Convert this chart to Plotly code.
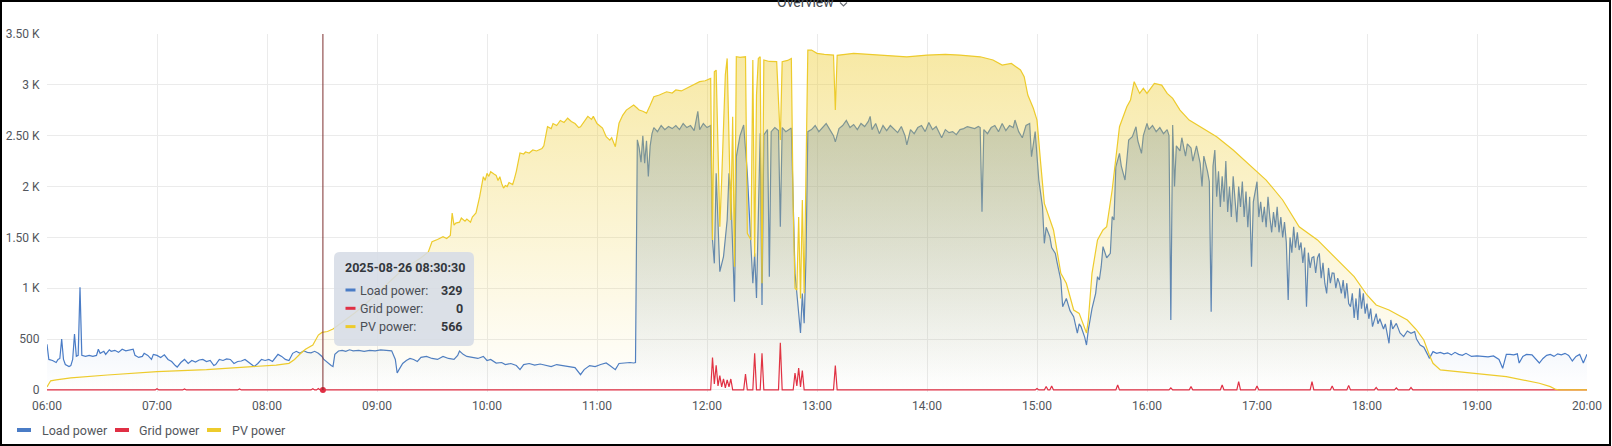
import plotly.graph_objects as go

DAY = "2025-08-26 "

# ---- data (W) ----
load_time = [
    "06:00", "06:01", "06:03", "06:05", "06:06", "06:07", "06:08", "06:09", "06:10", "06:12",
    "06:13", "06:14", "06:15", "06:16", "06:17", "06:18", "06:19", "06:21", "06:23", "06:25",
    "06:27", "06:28", "06:29", "06:31", "06:32", "06:34", "06:35", "06:37", "06:39", "06:41",
    "06:43", "06:45", "06:47", "06:48", "06:50", "06:52", "06:53", "06:55", "06:57", "06:58",
    "07:00", "07:02", "07:04", "07:06", "07:08", "07:10", "07:11", "07:13", "07:15", "07:17",
    "07:19", "07:21", "07:23", "07:25", "07:27", "07:29", "07:31", "07:32", "07:34", "07:36",
    "07:38", "07:40", "07:42", "07:44", "07:46", "07:48", "07:50", "07:52", "07:53", "07:55",
    "07:57", "07:59",
    "08:01", "08:03", "08:05", "08:06", "08:08", "08:10", "08:12", "08:14", "08:16", "08:18",
    "08:20", "08:22", "08:24", "08:26", "08:28", "08:30", "08:31", "08:33", "08:35", "08:36",
    "08:37", "08:39", "08:41", "08:43", "08:45", "08:47", "08:50", "08:53", "08:56", "08:59",
    "09:02", "09:05", "09:08", "09:10", "09:11", "09:12", "09:14", "09:16", "09:18", "09:20",
    "09:22", "09:24", "09:27", "09:30", "09:33", "09:36", "09:39", "09:42", "09:44", "09:45",
    "09:47", "09:49", "09:52", "09:55", "09:58",
    "10:00", "10:02", "10:05", "10:08", "10:10", "10:13", "10:16", "10:18", "10:20", "10:23",
    "10:26", "10:29", "10:32", "10:35", "10:38", "10:41", "10:44", "10:48", "10:51", "10:53",
    "10:56", "10:59",
    "11:02", "11:05", "11:07", "11:09", "11:10", "11:12", "11:15", "11:18", "11:20", "11:21",
    "11:22", "11:23", "11:24", "11:25", "11:26", "11:27", "11:28", "11:29", "11:30", "11:31",
    "11:33", "11:35", "11:37", "11:39", "11:41", "11:43", "11:45", "11:47", "11:49", "11:51",
    "11:53", "11:55", "11:56", "11:58",
    "12:00", "12:02", "12:03", "12:04", "12:05", "12:07", "12:09", "12:11", "12:12", "12:13",
    "12:15", "12:16", "12:18", "12:20", "12:22", "12:24", "12:25", "12:26", "12:27", "12:29",
    "12:30", "12:31", "12:33", "12:34", "12:35", "12:37", "12:39", "12:40", "12:41", "12:43",
    "12:46", "12:48", "12:50", "12:51", "12:52", "12:53", "12:54", "12:55", "12:57", "12:59",
    "13:01", "13:03", "13:05", "13:07", "13:09", "13:10", "13:12", "13:14", "13:16", "13:18",
    "13:20", "13:22", "13:24", "13:26", "13:28", "13:29", "13:30", "13:32", "13:34", "13:36",
    "13:38", "13:40", "13:42", "13:44", "13:46", "13:48", "13:49", "13:51", "13:53", "13:55",
    "13:57", "13:59",
    "14:01", "14:03", "14:05", "14:07", "14:08", "14:10", "14:12", "14:14", "14:16", "14:18",
    "14:20", "14:22", "14:24", "14:26", "14:28", "14:29", "14:30", "14:31", "14:33", "14:35",
    "14:37", "14:39", "14:41", "14:43", "14:45", "14:47", "14:48", "14:50", "14:52", "14:54",
    "14:56", "14:57", "14:59",
    "15:01", "15:03", "15:04", "15:05", "15:07", "15:08", "15:10", "15:11", "15:13", "15:14",
    "15:16", "15:18", "15:20", "15:22", "15:23", "15:24", "15:26", "15:27", "15:28", "15:30",
    "15:32", "15:33", "15:34", "15:35", "15:36", "15:38", "15:40", "15:41", "15:42", "15:43",
    "15:45", "15:46", "15:48", "15:50", "15:52", "15:54", "15:55", "15:57", "15:58",
    "16:00", "16:01", "16:03", "16:05", "16:07", "16:09", "16:11", "16:12", "16:13", "16:14",
    "16:15", "16:16", "16:18", "16:19", "16:21", "16:22", "16:24", "16:25", "16:27", "16:29",
    "16:30", "16:31", "16:33", "16:34", "16:35", "16:36", "16:37", "16:38", "16:39", "16:40",
    "16:41", "16:42", "16:43", "16:44", "16:45", "16:46", "16:47", "16:48", "16:49", "16:50",
    "16:51", "16:52", "16:53", "16:54", "16:55", "16:56", "16:57", "16:58",
    "17:00", "17:01", "17:02", "17:03", "17:04", "17:05", "17:06", "17:07", "17:08", "17:09",
    "17:10", "17:11", "17:12", "17:13", "17:14", "17:15", "17:16", "17:17", "17:18", "17:19",
    "17:20", "17:21", "17:22", "17:23", "17:24", "17:25", "17:26", "17:27", "17:28", "17:29",
    "17:30", "17:31", "17:32", "17:33", "17:34", "17:35", "17:36", "17:37", "17:38", "17:39",
    "17:40", "17:41", "17:42", "17:43", "17:44", "17:45", "17:46", "17:47", "17:48", "17:49",
    "17:50", "17:51", "17:52", "17:53", "17:54", "17:55", "17:56", "17:57", "17:58", "17:59",
    "18:00", "18:01", "18:02", "18:03", "18:05", "18:06", "18:07", "18:09", "18:10", "18:12",
    "18:13", "18:14", "18:16", "18:18", "18:20", "18:22", "18:24", "18:26", "18:27", "18:29",
    "18:31", "18:33", "18:34", "18:36", "18:38", "18:40", "18:42", "18:44", "18:46", "18:48",
    "18:50", "18:52", "18:54", "18:57",
    "19:00", "19:03", "19:06", "19:09", "19:12", "19:14", "19:16", "19:18", "19:20", "19:22",
    "19:23", "19:25", "19:27", "19:30", "19:32", "19:34", "19:36", "19:38", "19:40", "19:42",
    "19:44", "19:46", "19:48", "19:50", "19:52", "19:54", "19:56", "19:58", "20:00",
]
load_w = [
    450, 300, 290, 270, 300, 310, 500, 300, 250, 230,
    240, 300, 550, 330, 340, 1010, 340, 330, 340, 330,
    340, 400, 360, 380, 350, 395, 380, 390, 370, 400,
    385, 390, 400, 340, 320, 330, 360, 340, 300, 350,
    340, 320, 345, 300, 280, 240, 225, 270, 300, 260,
    290, 275, 295, 300, 280, 290, 240, 250, 300, 290,
    305, 300, 260, 280, 285, 300, 270, 240, 230, 260,
    300, 290,
    300, 280, 320, 350, 330, 300, 290, 360, 380, 360,
    385, 370, 365, 380, 360, 329, 300, 265, 240, 230,
    350, 383, 390, 380, 395, 385, 390, 380, 390, 385,
    395, 390, 385, 300, 167, 200, 260, 290, 310, 300,
    280, 320, 330, 310, 300, 330, 310, 300, 340, 383,
    350, 330, 320, 310, 330,
    290, 300, 265, 270, 250, 260, 240, 200, 250, 260,
    245, 255, 240, 230, 250, 240, 230, 220, 150, 200,
    240, 230,
    250, 265, 240, 210, 200, 260, 265, 270, 265, 270,
    2460, 2380, 2240, 2500, 2230, 2450, 2100, 2400, 2520, 2580,
    2540, 2600, 2560, 2590, 2570, 2600, 2560, 2620, 2580, 2600,
    2550, 2740, 2560, 2620,
    2580, 2600, 1475, 1245, 2130, 1163, 1310, 1671, 2130, 1930,
    868, 2294, 2500, 2605, 2130, 1409, 1049, 1343, 904, 2524,
    836, 2508, 2560, 1114, 2540, 2580, 2550, 1605, 2580, 2540,
    2575, 1147, 754, 560, 947, 656, 1310, 2540, 2560, 2600,
    2540, 2580, 2620, 2560, 2500, 2440, 2570, 2600, 2650, 2580,
    2610, 2560, 2620, 2590, 2640, 2690, 2560, 2620, 2520, 2600,
    2550, 2600, 2560, 2530, 2590, 2500, 2410, 2560, 2520, 2580,
    2600, 2540,
    2630, 2560, 2590, 2510, 2480, 2560, 2530, 2540, 2510, 2560,
    2570, 2590, 2580, 2570, 2590, 2580, 1753, 2560, 2520, 2580,
    2600, 2540, 2620, 2550, 2600, 2580, 2654, 2540, 2480, 2600,
    2620, 2293, 2540,
    2064, 1802, 1442, 1600, 1507, 1400, 1343, 1250, 1081, 819,
    900, 780, 721, 560, 650, 623, 520, 442, 590, 800,
    950, 1114, 1081, 1212, 1409, 1300, 1343, 1704, 1671, 2195,
    2326, 2200, 2064, 2458, 2490, 2588, 2450, 2326, 2500,
    2622, 2560, 2600, 2540, 2580, 2520, 2560, 2500, 688, 2605,
    2000, 2400, 2350, 2480, 2300, 2420, 2380, 2250, 2400, 2228,
    2000, 2300, 2150, 2050, 770, 2200, 2359, 1900, 2150, 1800,
    2100, 1850, 2250, 1750, 2000, 1700, 2100, 1850, 1650, 2000,
    1800, 2050, 1700, 1950, 1600, 1900, 1212, 1850,
    2048, 1700, 1850, 1650, 1800, 1600, 1900, 1700, 1550, 1750,
    1600, 1800, 1550, 1700, 1500, 1650, 1450, 885, 1500, 1350,
    1605, 1400, 1550, 1376, 1450, 1250, 1400, 819, 1350, 1200,
    1300, 1310, 1150, 1300, 1343, 1100, 1250, 1050, 950, 1200,
    1050, 1150, 1147, 1000, 1100, 1049, 950, 1080, 900, 1050,
    850, 819, 950, 708, 900, 688, 1000, 800, 950, 750,
    850, 700, 800, 622, 750, 650, 700, 600, 650, 459,
    688, 600, 655, 560, 524, 580, 557, 573, 500, 442,
    420, 350, 311, 377, 360, 370, 355, 365, 345, 370,
    350, 340, 360, 330,
    335, 330, 325, 335, 300, 213, 351, 350, 345, 355,
    265, 330, 350, 345, 300, 265, 310, 340, 350, 330,
    355, 345, 360, 340, 285, 330, 350, 265, 351,
]

pv_time = [
    "06:00", "06:02", "06:05", "06:13", "06:33", "07:00", "07:27", "07:54", "08:05", "08:12",
    "08:15", "08:18", "08:21", "08:25", "08:28", "08:30", "08:33", "08:36", "08:42", "08:48",
    "08:54", "09:00", "09:06", "09:12", "09:18", "09:24", "09:28", "09:30", "09:33", "09:36",
    "09:38", "09:40", "09:41", "09:42", "09:43", "09:45", "09:46", "09:48", "09:49", "09:51",
    "09:52", "09:54", "09:56", "09:58", "09:59", "10:00", "10:01", "10:02", "10:04", "10:05",
    "10:06", "10:07", "10:08", "10:09", "10:10", "10:11", "10:12", "10:14", "10:15", "10:16",
    "10:18", "10:20", "10:21", "10:23", "10:25", "10:27", "10:30", "10:31", "10:33", "10:35",
    "10:36", "10:38", "10:40", "10:42", "10:44", "10:46", "10:48", "10:50", "10:51", "10:53",
    "10:55", "10:57", "10:58", "11:00", "11:02", "11:03", "11:05", "11:07", "11:08", "11:10",
    "11:12", "11:14", "11:16", "11:18", "11:20", "11:22", "11:23", "11:25", "11:27", "11:29",
    "11:31", "11:34", "11:38", "11:41", "11:43", "11:46", "11:49", "11:52", "11:56", "11:59",
    "12:02", "12:03", "12:04", "12:05", "12:06", "12:07", "12:08", "12:09", "12:10", "12:11",
    "12:12", "12:13", "12:14", "12:15", "12:16", "12:18", "12:21", "12:22", "12:24", "12:25",
    "12:26", "12:27", "12:28", "12:29", "12:30", "12:31", "12:34", "12:38", "12:40", "12:41",
    "12:44", "12:46", "12:47", "12:48", "12:49", "12:50", "12:51", "12:52", "12:53", "12:54",
    "12:55", "12:57", "13:00", "13:04", "13:09", "13:10", "13:11", "13:20", "13:30", "13:38",
    "13:49", "14:00", "14:10", "14:18", "14:29", "14:36", "14:41", "14:46", "14:51", "14:53",
    "14:55", "14:58", "15:00", "15:02", "15:04", "15:09", "15:13", "15:16", "15:20", "15:23",
    "15:27", "15:28", "15:30", "15:33", "15:36", "15:38", "15:41", "15:45", "15:49", "15:51",
    "15:53", "15:56", "15:58", "16:00", "16:04", "16:08", "16:11", "16:14", "16:18", "16:23",
    "16:29", "16:38", "16:47", "16:58", "17:05", "17:14", "17:23", "17:33", "17:42", "17:53",
    "18:00", "18:05", "18:12", "18:22", "18:27", "18:31", "18:34", "18:36", "18:40", "18:49",
    "19:00", "19:16", "19:34", "19:40", "19:43", "19:45", "20:00",
]
pv_w = [
    30, 90, 100, 118, 147, 180, 200, 229, 245, 262,
    300, 354, 400, 442, 540, 566, 575, 600, 680, 760,
    850, 950, 1050, 1150, 1230, 1300, 1357, 1458, 1480, 1507,
    1490, 1520, 1740, 1620, 1641, 1650, 1690, 1660, 1680, 1650,
    1700, 1740, 1900, 2097, 2060, 2130, 2100, 2146, 2120, 2110,
    2060, 2097, 2030, 1985, 2010, 2000, 2040, 2020, 2080, 2150,
    2330, 2320, 2340, 2330, 2360, 2350, 2375, 2400, 2588, 2570,
    2620, 2600, 2650, 2630, 2672, 2640, 2620, 2580, 2588, 2640,
    2690, 2660, 2690, 2620, 2588, 2575, 2490, 2457, 2480, 2392,
    2622, 2700, 2752, 2780, 2801, 2770, 2752, 2740, 2722, 2800,
    2883, 2900, 2932, 2920, 2950, 2940, 2966, 2990, 3031, 3040,
    3064, 1475, 3129, 3145, 2200, 1605, 2064, 2600, 3100, 3260,
    2500, 1671, 2687, 1212, 3276, 3270, 3276, 1540, 1475, 3244,
    1310, 2900, 3260, 3276, 1049, 3244, 3230, 3228, 2458, 3228,
    3240, 3260, 1802, 1000, 983, 1700, 900, 1868, 950, 2000,
    3342, 3342, 3310, 3300, 3293, 2752, 3290, 3310, 3300, 3293,
    3276, 3293, 3300, 3293, 3276, 3244, 3195, 3211, 3146, 3080,
    2900, 2770, 2654, 2230, 1835, 1573, 1147, 1049, 786, 753,
    560, 688, 1147, 1475, 1573, 1605, 1966, 2588, 2785, 2851,
    3031, 2916, 2966, 2916, 3015, 2998, 2916, 2867, 2752, 2654,
    2588, 2490, 2359, 2179, 2064, 1868, 1605, 1475, 1310, 1114,
    934, 836, 786, 688, 590, 492, 344, 262, 197, 180,
    164, 131, 66, 33, 5, 0, 0,
]

grid_time = [
    "06:00", "06:59", "07:00", "07:01", "07:14", "07:15", "07:16", "07:44", "07:45", "07:46",
    "08:24", "08:25", "08:26", "08:27", "08:28", "08:29", "12:02", "12:03", "12:04", "12:05",
    "12:06", "12:07", "12:08", "12:09", "12:10", "12:11", "12:12", "12:13", "12:14", "12:20",
    "12:21", "12:22", "12:25", "12:26", "12:27", "12:29", "12:30", "12:31", "12:39", "12:40",
    "12:41", "12:47", "12:48", "12:49", "12:50", "12:51", "12:52", "12:53", "13:09", "13:10",
    "13:11", "14:59", "15:00", "15:01", "15:04", "15:05", "15:06", "15:07", "15:08", "15:09",
    "15:43", "15:44", "15:45", "16:12", "16:13", "16:14", "16:23", "16:24", "16:25", "16:40",
    "16:41", "16:42", "16:49", "16:50", "16:51", "16:59", "17:00", "17:01", "17:29", "17:30",
    "17:31", "17:40", "17:41", "17:42", "17:49", "17:50", "17:51", "18:04", "18:05", "18:06",
    "18:15", "18:16", "18:17", "18:23", "18:24", "18:25", "20:00",
]
grid_w = [
    0, 0, 12, 0, 0, 10, 0, 0, 10, 0,
    0, 12, 0, 0, 15, 0, 0, 318, 60, 243,
    40, 141, 30, 108, 20, 100, 30, 108, 0, 0,
    157, 0, 0, 360, 0, 0, 360, 0, 0, 465,
    0, 0, 167, 40, 216, 30, 190, 0, 0, 239,
    0, 0, 15, 0, 0, 35, 0, 0, 40, 0,
    0, 49, 0, 0, 20, 0, 0, 33, 0, 0,
    49, 0, 0, 82, 0, 0, 40, 0, 0, 82,
    0, 0, 40, 0, 0, 45, 0, 0, 25, 0,
    0, 20, 0, 0, 25, 0, 0,
]

series_names = ["Load power", "Grid power", "PV power"]
series_colors = ["#4A7CC6", "#E02F44", "#EDCB2C"]
series_alpha = [0.5, 0.5, 0.45]

y_tickvals = [0, 500, 1000, 1500, 2000, 2500, 3000, 3500]
y_ticktext = ["0", "500", "1 K", "1.50 K", "2 K", "2.50 K", "3 K", "3.50 K"]

hover_time = "08:30:30"
hover_title = "2025-08-26 08:30:30"
hover_labels = ["Load power:", "Grid power:", "PV power:"]
hover_values = ["329", "0", "566"]

# ---- layout geometry (pixels) ----
W, H = 1612, 446
ML, MR, MT, MB = 47, 25, 34, 54
PW, PH = W - ML - MR, H - MT - MB
TXT = "#52565c"
FONT = "Roboto"


def px(x):
    return (x - ML) / PW


def py(y):
    return (H - MB - y) / PH


def rgba(hex_color, a):
    h = hex_color.lstrip("#")
    r, g, b = int(h[0:2], 16), int(h[2:4], 16), int(h[4:6], 16)
    return "rgba(%d,%d,%d,%.3f)" % (r, g, b, a)


def rounded_box(x0, y0, x1, y1, r):
    pts = [
        ("M", x0 + r, y0), ("L", x1 - r, y0), ("Q", x1, y0, x1, y0 + r),
        ("L", x1, y1 - r), ("Q", x1, y1, x1 - r, y1), ("L", x0 + r, y1),
        ("Q", x0, y1, x0, y1 - r), ("L", x0, y0 + r), ("Q", x0, y0, x0 + r, y0),
    ]
    out = []
    for p in pts:
        coords = p[1:]
        s = " ".join("%.5f,%.5f" % (px(coords[i]), py(coords[i + 1])) for i in range(0, len(coords), 2))
        out.append(p[0] + " " + s)
    return " ".join(out) + " Z"


fig = go.Figure()

for name, times, vals, color, alpha in zip(
        series_names,
        [load_time, grid_time, pv_time],
        [load_w, grid_w, pv_w],
        series_colors, series_alpha):
    fig.add_trace(go.Scatter(
        x=[DAY + t for t in times], y=vals, name=name, mode="lines",
        line=dict(color=color, width=1.2),
        fill="tozeroy",
        fillgradient=dict(type="vertical", start=0, stop=3500,
                          colorscale=[[0, rgba(color, 0)], [1, rgba(color, alpha)]]),
        hoverinfo="skip", showlegend=False,
    ))

# crosshair point on grid series
fig.add_trace(go.Scatter(
    x=[DAY + hover_time], y=[int(hover_values[1])], mode="markers",
    marker=dict(color=series_colors[1], size=6),
    cliponaxis=False, hoverinfo="skip", showlegend=False,
))

shapes = []
annotations = []

# crosshair line
shapes.append(dict(type="line", xref="x", yref="paper", x0=DAY + hover_time, x1=DAY + hover_time,
                   y0=py(390), y1=1, line=dict(color="#7d2f2f", width=1)))

# tooltip
shapes.append(dict(type="path", xref="paper", yref="paper", path=rounded_box(334, 252, 474, 346, 6),
                   fillcolor="rgba(214,220,230,0.88)", line=dict(width=0)))
annotations.append(dict(xref="paper", yref="paper", x=px(404.5), y=py(267), text="<b>%s</b>" % hover_title,
                        showarrow=False, xanchor="center", yanchor="middle",
                        font=dict(family=FONT, size=12.5, color="#33373d")))
for i, (lab, val) in enumerate(zip(hover_labels, hover_values)):
    ry = 290 + i * 18.3
    shapes.append(dict(type="line", xref="paper", yref="paper", x0=px(345.5), x1=px(355.5),
                       y0=py(ry), y1=py(ry), line=dict(color=series_colors[i], width=3)))
    annotations.append(dict(xref="paper", yref="paper", x=px(358), y=py(ry), text=lab, showarrow=False,
                            xanchor="left", yanchor="middle",
                            font=dict(family=FONT, size=12.5, color="#4a4e55")))
    annotations.append(dict(xref="paper", yref="paper", x=px(465), y=py(ry), text="<b>%s</b>" % val,
                            showarrow=False, xanchor="right", yanchor="middle",
                            font=dict(family=FONT, size=12.5, color="#33373d")))

# legend
legend_dash_x = [17, 115, 207]
legend_text_x = [40, 137, 230]
for name, color, dx, tx in zip(series_names, series_colors, legend_dash_x, legend_text_x):
    shapes.append(dict(type="line", xref="paper", yref="paper", x0=px(dx), x1=px(dx + 14),
                       y0=py(430), y1=py(430), line=dict(color=color, width=4)))
    annotations.append(dict(xref="paper", yref="paper", x=px(tx), y=py(430.5), text=name, showarrow=False,
                            xanchor="left", yanchor="middle", font=dict(family=FONT, size=12.5, color=TXT)))

# panel title, cut off at the top edge as in the screenshot
annotations.append(dict(xref="paper", yref="paper", x=px(805), y=py(2), text="Overview", showarrow=False,
                        xanchor="center", yanchor="middle", font=dict(family=FONT, size=14, color="#464c54")))
shapes.append(dict(type="path", xref="paper", yref="paper",
                   path="M %.5f,%.5f L %.5f,%.5f L %.5f,%.5f" % (px(840), py(2.5), px(843.5), py(6), px(847), py(2.5)),
                   line=dict(color="#6c7077", width=1.2)))

# screenshot frame
shapes.append(dict(type="rect", xref="paper", yref="paper", x0=px(1), x1=px(1610), y0=py(445), y1=py(1),
                   line=dict(color="#000000", width=2), fillcolor="rgba(0,0,0,0)"))

fig.update_layout(
    width=W, height=H,
    margin=dict(l=ML, r=MR, t=MT, b=MB, pad=0),
    paper_bgcolor="white", plot_bgcolor="white",
    font=dict(family=FONT, size=12, color=TXT),
    hovermode=False,
    shapes=shapes, annotations=annotations,
    xaxis=dict(
        type="date", range=[DAY + "06:00", DAY + "20:00"],
        dtick=3600000, tickformat="%H:%M",
        showgrid=True, gridcolor="#ebebeb", gridwidth=1,
        zeroline=False, showline=False, automargin=False,
        ticks="outside", ticklen=3, tickcolor="rgba(0,0,0,0)",
        tickfont=dict(family=FONT, size=12, color=TXT),
    ),
    yaxis=dict(
        range=[-20, 3500], tickvals=y_tickvals, ticktext=y_ticktext,
        showgrid=True, gridcolor="#ebebeb", gridwidth=1,
        zeroline=False, showline=False, automargin=False,
        ticks="outside", ticklen=4, tickcolor="rgba(0,0,0,0)",
        tickfont=dict(family=FONT, size=12, color=TXT),
    ),
)

# the page body has a default 8px margin; drop it so the figure sits at the window corner
fig.write_html(
    "out.html",
    config={"displayModeBar": False},
    post_script="document.body.style.margin='0';document.body.style.overflow='hidden';",
)
